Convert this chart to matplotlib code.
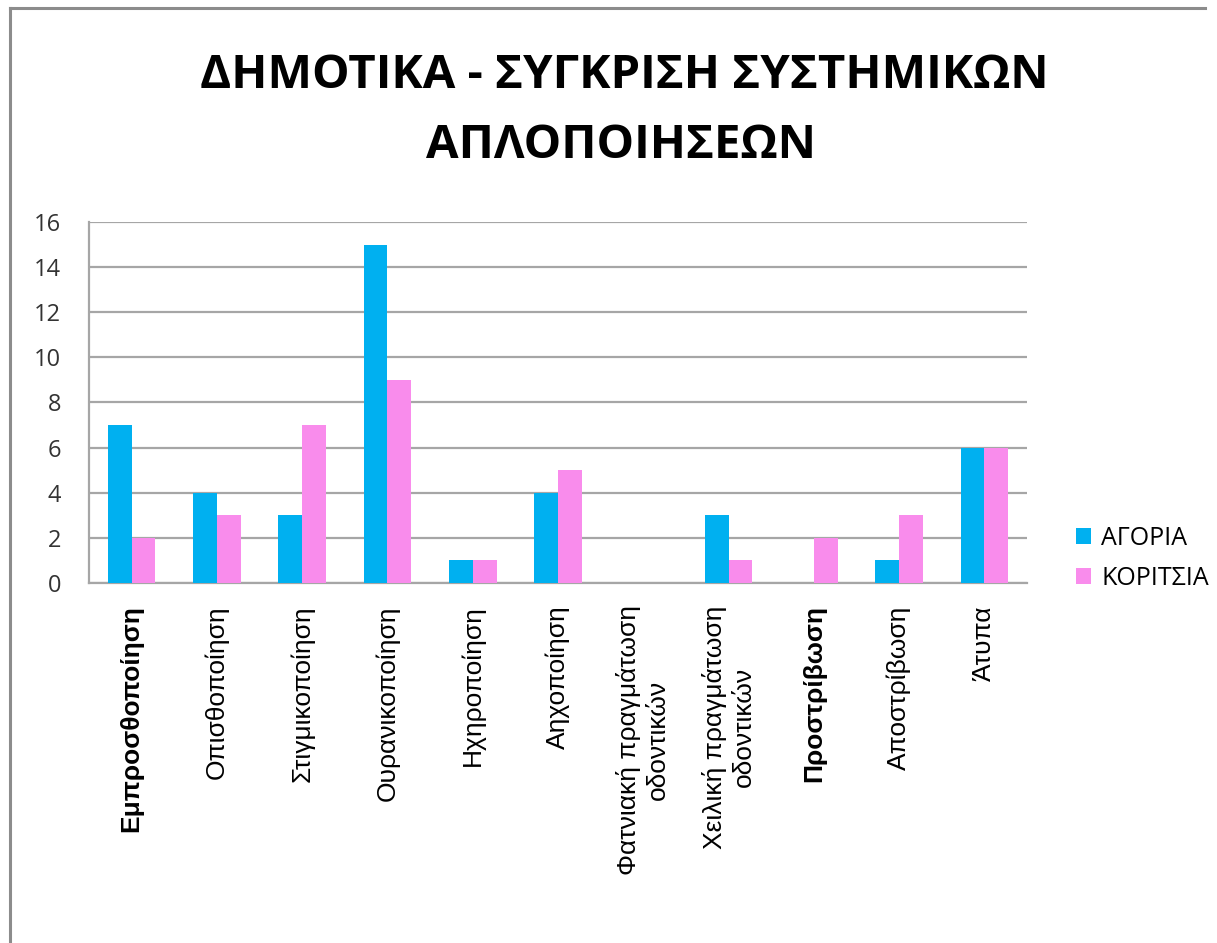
import matplotlib
matplotlib.use("Agg")
import matplotlib.pyplot as plt
import numpy as np
from matplotlib.lines import Line2D

categories = [
    "Εμπροσθοποίηση",
    "Οπισθοποίηση",
    "Στιγμικοποίηση",
    "Ουρανικοποίηση",
    "Ηχηροποίηση",
    "Αηχοποίηση",
    "Φατνιακή πραγμάτωση\nοδοντικών",
    "Χειλική πραγμάτωση\nοδοντικών",
    "Προστρίβωση",
    "Αποστρίβωση",
    "Άτυπα",
]
agoria = [7, 4, 3, 15, 1, 4, 0, 3, 0, 1, 6]
koritsia = [2, 3, 7, 9, 1, 5, 0, 1, 2, 3, 6]
series_names = ["ΑΓΟΡΙΑ", "ΚΟΡΙΤΣΙΑ"]
title_lines = ["ΔΗΜΟΤΙΚΑ - ΣΥΓΚΡΙΣΗ ΣΥΣΤΗΜΙΚΩΝ", "ΑΠΛΟΠΟΙΗΣΕΩΝ"]

BLUE = "#00B0F0"
PINK = "#F98CEC"
GRID = "#A6A6A6"

fig = plt.figure(figsize=(12.17, 9.43), dpi=100)
ax = fig.add_axes([0.0731, 0.3818, 0.7708, 0.3828])

x = np.arange(len(categories))
w = 0.28
ax.bar(x - w / 2, agoria, w, color=BLUE, label=series_names[0], zorder=3)
ax.bar(x + w / 2, koritsia, w, color=PINK, label=series_names[1], zorder=3)

ax.set_xlim(-0.5, len(categories) - 0.5)
ax.set_ylim(0, 16)
ax.set_yticks(range(0, 17, 2))
ax.yaxis.grid(True, color=GRID, linewidth=1.6, zorder=0)
ax.set_axisbelow(True)

for side in ("top", "right"):
    ax.spines[side].set_visible(False)
for side in ("left", "bottom"):
    ax.spines[side].set_color(GRID)
    ax.spines[side].set_linewidth(1.6)

ax.tick_params(axis="y", length=0, pad=20, labelsize=17, labelcolor="#333333")
for t in ax.get_yticklabels():
    t.set_family("Open Sans")
ax.tick_params(axis="x", length=0, pad=16)
ax.set_xticks(x)
ax.set_xticklabels(categories, rotation=90, va="top", ha="center",
                   fontsize=19, family="Liberation Sans", linespacing=1.25)
# two labels are drawn heavier in the original workbook
for i in (0, 8):
    ax.get_xticklabels()[i].set_fontweight("bold")

fig.text(0.513, 0.920, title_lines[0], ha="center", va="center",
         fontsize=34, fontweight="bold", family="Open Sans")
fig.text(0.510, 0.846, title_lines[1], ha="center", va="center",
         fontsize=34, fontweight="bold", family="Open Sans")

ax.legend(loc="center left", bbox_to_anchor=(0.866, 0.408),
          bbox_transform=fig.transFigure, frameon=False,
          handlelength=0.6, handleheight=0.6, handletextpad=0.4,
          labelspacing=0.6, prop={"family": "Open Sans", "size": 18})

# chart frame (left and top edges)
fig.add_artist(Line2D([0.0082, 0.0082], [0.0, 0.9915], color="#8C8C8C",
                      linewidth=2.2, transform=fig.transFigure))
fig.add_artist(Line2D([0.0082, 0.99], [0.9915, 0.9915], color="#8C8C8C",
                      linewidth=2.2, transform=fig.transFigure))

fig.savefig("out.png", dpi=100, facecolor="white")
